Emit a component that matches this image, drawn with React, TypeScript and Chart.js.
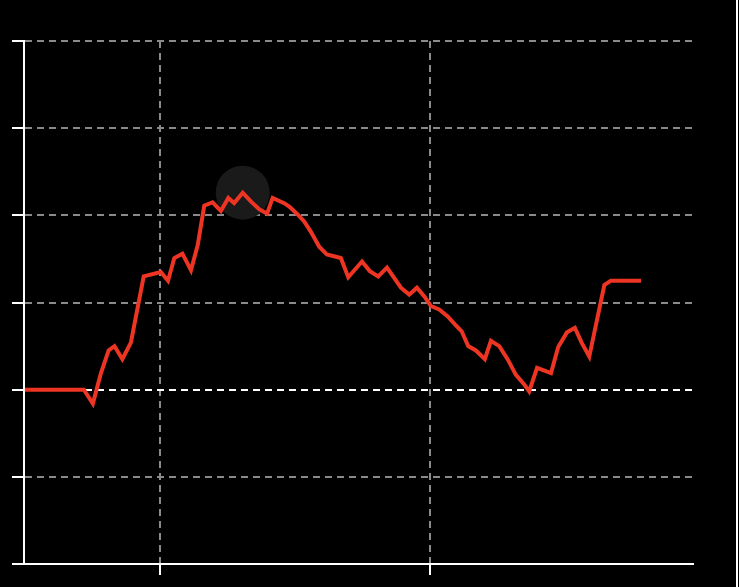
import React, { useEffect, useRef } from "react";
import { Chart, registerables } from "chart.js";

Chart.register(...registerables);

// x positions (months from start), y values
const xValues = [
  0, 1, 2, 2.62, 3.02, 3.38, 3.72, 3.98, 4.33, 4.71, 5.28, 6.04, 6.36, 6.64, 7.0, 7.38, 7.68,
  7.97, 8.34, 8.71, 9.04, 9.3, 9.68, 10.04, 10.41, 10.76, 11.01, 11.52, 11.75, 12.12, 12.41,
  12.71, 13.08, 13.42, 14.04, 14.37, 14.98, 15.33, 15.7, 16.09, 16.44, 16.71, 17.08, 17.42,
  17.75, 18.04, 18.41, 18.79, 19.11, 19.41, 19.7, 20.04, 20.44, 20.71, 21.08, 21.45, 21.82,
  22.19, 22.41, 22.76, 23.38, 23.7, 24.09, 24.44, 24.74, 25.08, 25.75, 26.04, 27.38,
];
const yValues = [
  0, 0, 0, 0, -0.16, 0.19, 0.45, 0.5, 0.35, 0.54, 1.3, 1.35, 1.25, 1.51, 1.56, 1.37, 1.66,
  2.11, 2.15, 2.05, 2.2, 2.14, 2.26, 2.16, 2.07, 2.02, 2.2, 2.14, 2.1, 2.01, 1.93,
  1.81, 1.64, 1.55, 1.51, 1.29, 1.47, 1.36, 1.3, 1.4, 1.27, 1.17, 1.09, 1.17,
  1.07, 0.96, 0.92, 0.84, 0.75, 0.67, 0.5, 0.45, 0.35, 0.56, 0.5, 0.35, 0.17,
  0.06, -0.02, 0.25, 0.19, 0.49, 0.66, 0.71, 0.54, 0.38, 1.2, 1.25, 1.25,
];
const xTicks = [6, 18];
const xMin = -0.04;
const xMax = 29.69;
const yMin = -2;
const yMax = 4;

export default function App() {
  const ref = useRef<HTMLCanvasElement | null>(null);

  useEffect(() => {
    if (!ref.current) return;
    const points = xValues.map((x, i) => ({ x, y: yValues[i] }));
    let peak = 0;
    yValues.forEach((v, i) => {
      if (v > yValues[peak]) peak = i;
    });
    const grey = "#8a8a8a";
    const chart = new Chart(ref.current, {
      type: "scatter",
      data: {
        datasets: [
          {
            data: points,
            showLine: true,
            borderColor: "#ee3524",
            borderWidth: 4,
            pointRadius: 0,
            pointHoverRadius: 0,
            fill: false,
            tension: 0,
            order: 0,
          },
          {
            data: [points[peak]],
            showLine: false,
            pointRadius: 27,
            pointHoverRadius: 27,
            backgroundColor: "#1a1a1a",
            borderWidth: 0,
            order: 1,
          },
        ],
      },
      options: {
        animation: false,
        responsive: false,
        events: [],
        layout: { autoPadding: false, padding: { left: 12, top: 41, right: 46, bottom: 12 } } as any,
        plugins: { legend: { display: false }, tooltip: { enabled: false } },
        scales: {
          x: {
            type: "linear",
            min: xMin,
            max: xMax,
            afterBuildTicks: (axis: any) => {
              axis.ticks = xTicks.map((v) => ({ value: v }));
            },
            afterFit: (axis: any) => {
              axis.height = 11;
            },
            ticks: { display: false },
            border: { display: true, color: "#ffffff", width: 2, dash: [7, 5] } as any,
            grid: {
              color: grey,
              lineWidth: 2,
              tickLength: 11,
              tickColor: "#ffffff",
              tickWidth: 2,
              tickBorderDash: [],
              drawTicks: true,
            } as any,
          },
          y: {
            type: "linear",
            min: yMin,
            max: yMax,
            afterFit: (axis: any) => {
              axis.width = 12;
            },
            ticks: { display: false, stepSize: 1 },
            border: { display: true, color: "#ffffff", width: 2, dash: [7, 5] } as any,
            grid: {
              color: (c: any) => (c.tick && c.tick.value === 0 ? "#ffffff" : grey),
              lineWidth: 2,
              tickLength: 12,
              tickColor: "#ffffff",
              tickWidth: 2,
              tickBorderDash: [],
              drawTicks: true,
            } as any,
          },
        },
      },
    });
    return () => chart.destroy();
  }, []);

  return (
    <div
      style={{
        position: "fixed",
        left: 0,
        top: 0,
        width: 739,
        height: 587,
        background: "#000",
        overflow: "hidden",
      }}
    >
      <canvas ref={ref} width={739} height={587} style={{ display: "block", width: 739, height: 587 }} />
      <div
        style={{
          position: "absolute",
          left: 736,
          top: 0,
          width: 2,
          height: 587,
          background: "#fff",
        }}
      />
    </div>
  );
}
